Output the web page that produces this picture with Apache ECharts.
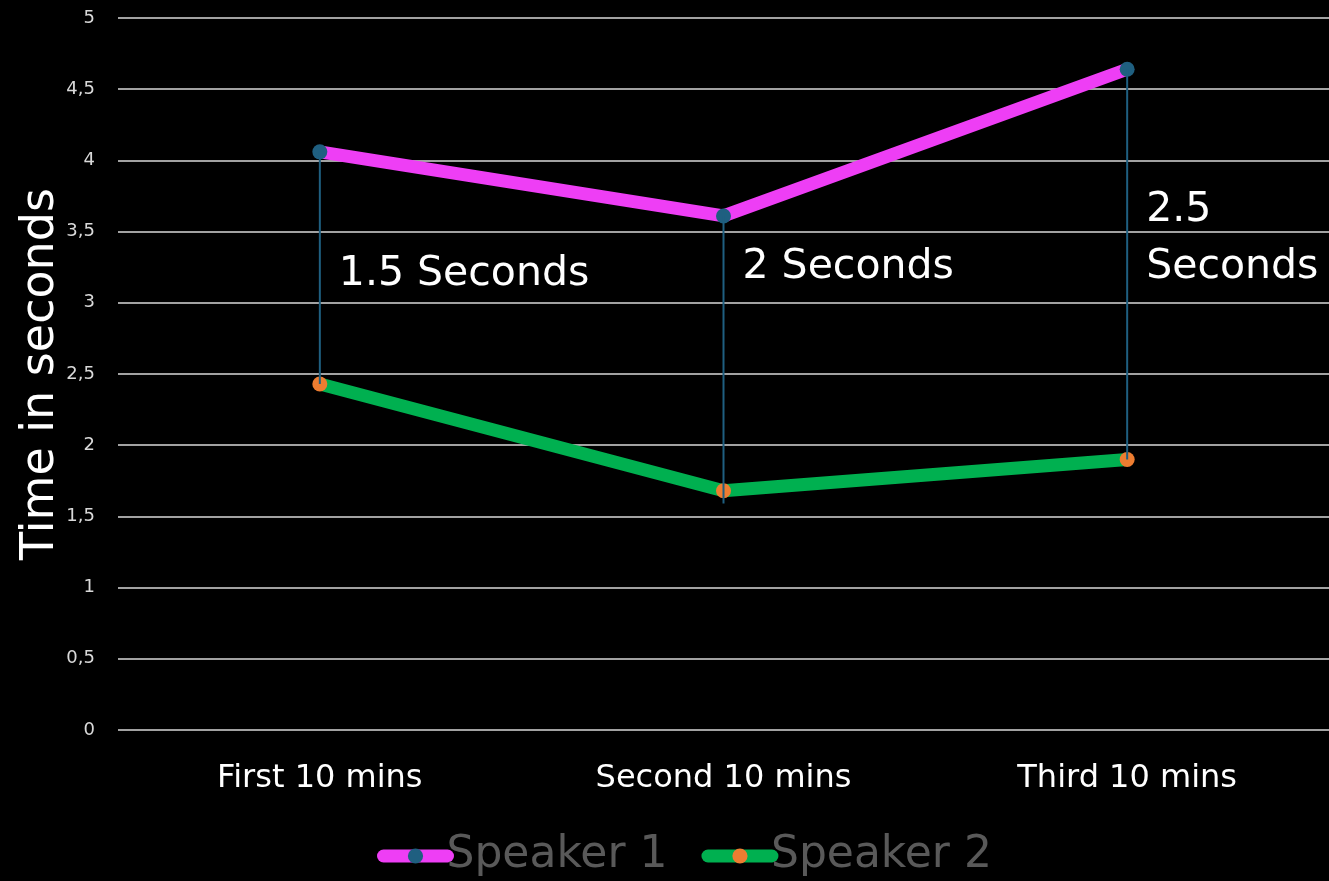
<!DOCTYPE html>
<html>
<head>
<meta charset="utf-8">
<script src="https://cdn.jsdelivr.net/npm/echarts@6/dist/echarts.min.js"></script>
<style>
html,body{margin:0;padding:0;background:#000;}
#chart{width:1329px;height:881px;}
</style>
</head>
<body>
<div id="chart"></div>
<script>
var categories = ['First 10 mins', 'Second 10 mins', 'Third 10 mins'];
var speaker1 = [4.06, 3.61, 4.64];
var speaker2 = [2.43, 1.68, 1.90];
var dropLineLow = [2.43, 1.59, 1.90];
var annotationText = ['1.5 Seconds', '2 Seconds', '2.5\nSeconds'];
var annotationValue = [3.20, 3.25, 3.45];
var yTicks = [0, 0.5, 1, 1.5, 2, 2.5, 3, 3.5, 4, 4.5, 5];

var FONT = '"DejaVu Sans", "Liberation Sans", sans-serif';
var chart = echarts.init(document.getElementById('chart'), null, {renderer: 'canvas'});

var dropData = categories.map(function (c, i) {
  return [i, speaker1[i], dropLineLow[i]];
});
var annotData = categories.map(function (c, i) {
  return [i, annotationValue[i], annotationText[i]];
});

chart.setOption({
  backgroundColor: '#000000',
  animation: false,
  textStyle: {fontFamily: FONT},
  grid: {left: 118, right: 0, top: 18, bottom: 151, containLabel: false, outerBoundsMode: 'none'},
  legend: {
    top: 829,
    left: 372,
    data: ['Speaker 1', 'Speaker 2'],
    itemWidth: 64,
    itemHeight: 19,
    itemGap: 34,
    lineStyle: {width: 13, cap: 'round'},
    textStyle: {color: '#595959', fontSize: 44, fontFamily: FONT, padding: [0, 0, 0, -6]}
  },
  xAxis: {
    type: 'category',
    data: categories,
    boundaryGap: true,
    axisLine: {show: false},
    axisTick: {show: false},
    axisLabel: {color: '#ffffff', fontSize: 32, margin: 33, fontFamily: FONT}
  },
  yAxis: {
    type: 'value',
    min: 0,
    max: 5,
    interval: 0.5,
    name: 'Time in seconds',
    nameLocation: 'middle',
    nameGap: 54,
    nameMoveOverlap: false,
    nameTextStyle: {color: '#ffffff', fontSize: 46, fontFamily: FONT},
    axisLine: {show: false},
    axisTick: {show: false},
    axisLabel: {
      color: '#d9d9d9', fontSize: 18, margin: 23, fontFamily: FONT,
      formatter: function (v) { return String(v).replace('.', ','); }
    },
    splitLine: {lineStyle: {color: '#d9d9d9', width: 1.5}}
  },
  series: [
    {
      name: 'Speaker 1',
      type: 'line',
      data: speaker1,
      z: 3,
      symbol: 'circle',
      symbolSize: 15,
      lineStyle: {color: '#EE3EF5', width: 13, cap: 'round', join: 'round'},
      itemStyle: {color: '#1F5F80', borderWidth: 0}
    },
    {
      name: 'Speaker 2',
      type: 'line',
      data: speaker2,
      z: 3,
      symbol: 'circle',
      symbolSize: 15,
      lineStyle: {color: '#00B050', width: 13, cap: 'round', join: 'round'},
      itemStyle: {color: '#ED7D31', borderWidth: 0}
    },
    {
      name: 'drop',
      type: 'custom',
      z: 4,
      data: dropData,
      renderItem: function (params, api) {
        var p1 = api.coord([api.value(0), api.value(1)]);
        var p2 = api.coord([api.value(0), api.value(2)]);
        return {
          type: 'line',
          shape: {x1: p1[0], y1: p1[1], x2: p2[0], y2: p2[1]},
          style: {stroke: '#1F5F80', lineWidth: 2}
        };
      }
    },
    {
      name: 'annot',
      type: 'custom',
      z: 5,
      data: annotData,
      renderItem: function (params, api) {
        var p = api.coord([api.value(0), api.value(1)]);
        return {
          type: 'text',
          x: p[0] + 19,
          y: p[1],
          style: {
            text: annotationText[params.dataIndex],
            fill: '#ffffff',
            font: '41px ' + FONT,
            verticalAlign: 'middle',
            align: 'left',
            lineHeight: 57
          }
        };
      }
    }
  ]
});
</script>
</body>
</html>
